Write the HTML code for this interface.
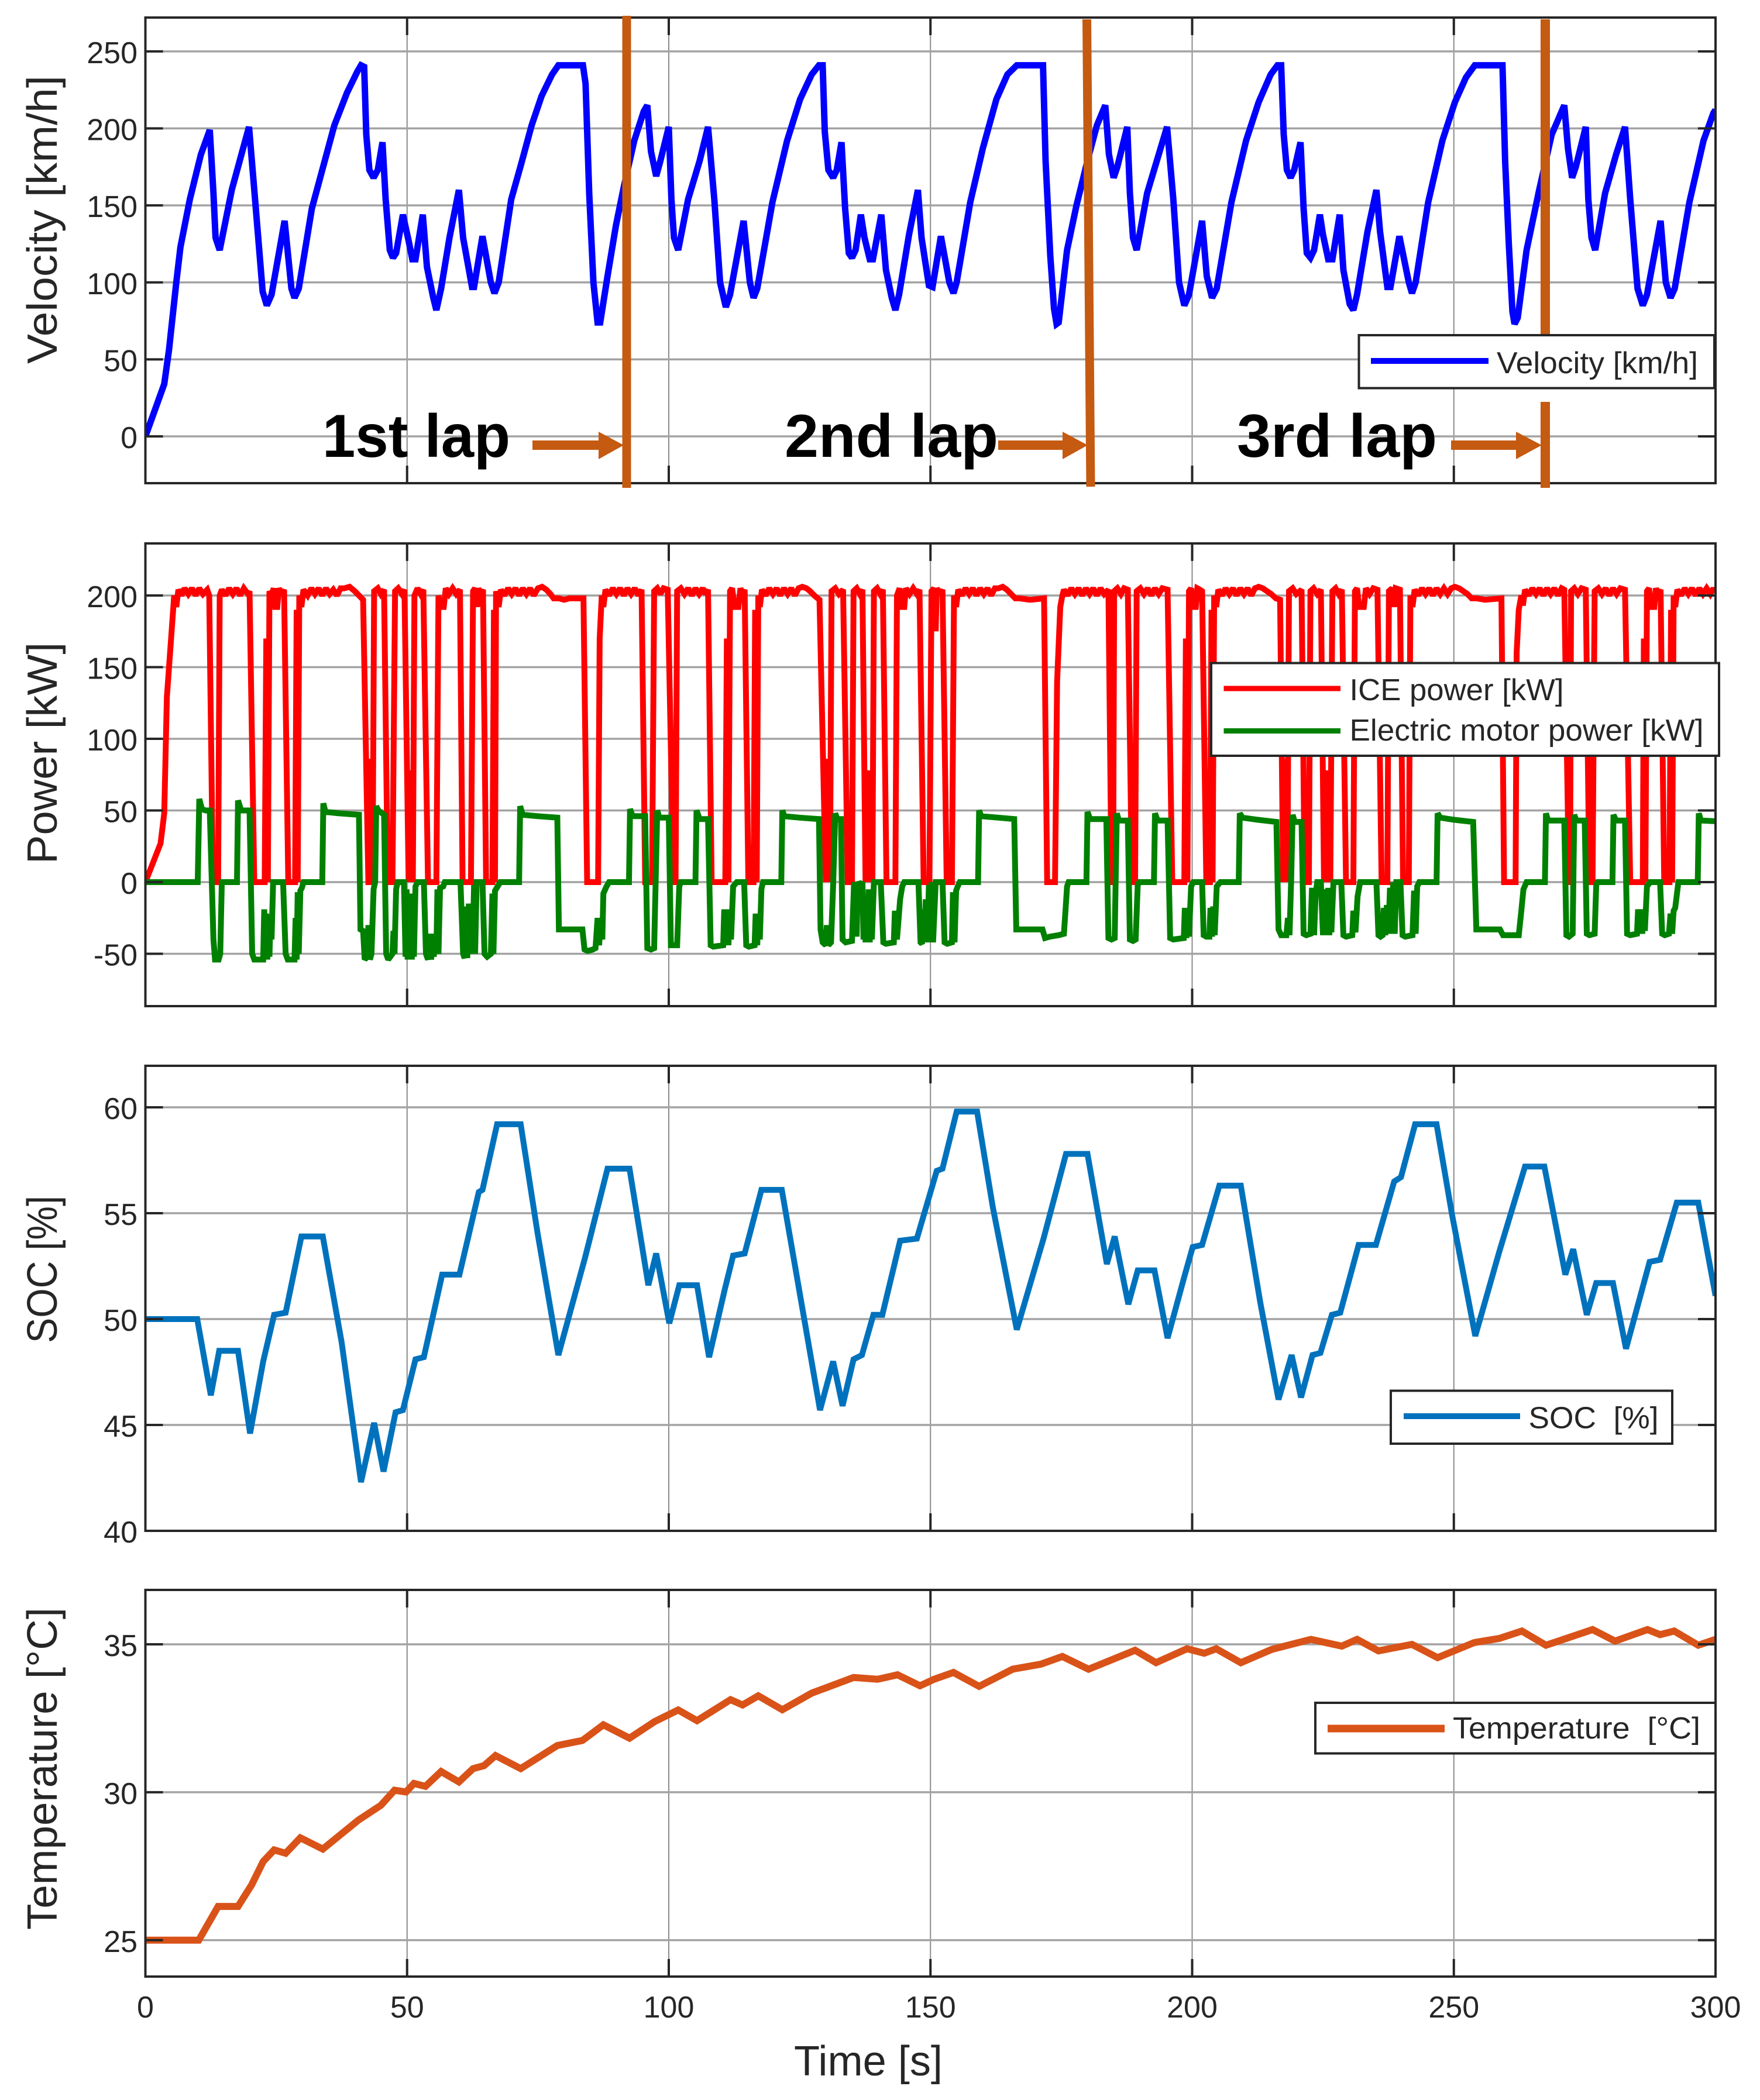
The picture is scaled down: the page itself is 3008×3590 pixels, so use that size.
<!DOCTYPE html>
<html lang="en">
<head>
<meta charset="utf-8">
<title>Velocity, power, SOC and temperature over time</title>
<style>
html,body{margin:0;padding:0;background:#fff;}
svg{display:block;font-family:"Liberation Sans",sans-serif;}
.tick-label{font-size:52px;fill:#262626;}
.axis-title{font-size:72px;fill:#262626;}
.legend-text{font-size:52px;fill:#262626;}
.lap-label{font-size:104px;font-weight:bold;fill:#000;}
</style>
</head>
<body>
<svg id="chart" xmlns="http://www.w3.org/2000/svg" width="3008" height="3590" viewBox="0 0 3008 3590">
  <rect x="0" y="0" width="3008" height="3590" fill="#fff"/>
  <g id="plots"></g>

  <text class="axis-title" transform="translate(97,622) rotate(-90)" textLength="493" lengthAdjust="spacingAndGlyphs">Velocity [km/h]</text>
  <text class="axis-title" transform="translate(97,1477) rotate(-90)" textLength="379" lengthAdjust="spacingAndGlyphs">Power [kW]</text>
  <text class="axis-title" transform="translate(97,2296) rotate(-90)" textLength="252" lengthAdjust="spacingAndGlyphs">SOC [%]</text>
  <text class="axis-title" transform="translate(97,3299) rotate(-90)" textLength="551" lengthAdjust="spacingAndGlyphs">Temperature [°C]</text>
  <text class="axis-title" x="1357" y="3548" textLength="254" lengthAdjust="spacingAndGlyphs">Time [s]</text>

  <g>
    <line x1="1071" y1="27" x2="1071" y2="834" stroke="#C55A11" stroke-width="15"/>
    <line x1="1857.5" y1="33" x2="1864" y2="832" stroke="#C55A11" stroke-width="15"/>
    <line x1="2641" y1="33" x2="2641" y2="577" stroke="#C55A11" stroke-width="16"/>
    <line x1="2641" y1="687" x2="2641" y2="834" stroke="#C55A11" stroke-width="16"/>
    <text class="lap-label" x="551" y="781" textLength="321" lengthAdjust="spacingAndGlyphs">1st lap</text>
    <text class="lap-label" x="1341" y="781" textLength="365" lengthAdjust="spacingAndGlyphs">2nd lap</text>
    <text class="lap-label" x="2114" y="781" textLength="342" lengthAdjust="spacingAndGlyphs">3rd lap</text>
    <polygon fill="#C55A11" points="910,753 1023,753 1023,738 1066,761 1023,785 1023,769 910,769"/>
    <polygon fill="#C55A11" points="1706,753 1816,753 1816,738 1859,761 1816,785 1816,769 1706,769"/>
    <polygon fill="#C55A11" points="2480,753 2591,753 2591,738 2635,761 2591,785 2591,769 2480,769"/>
  </g>

  <g>
    <rect x="2322.5" y="573" width="607.5" height="90.5" fill="#fff" stroke="#262626" stroke-width="4"/>
    <line x1="2343" y1="617" x2="2544" y2="617" stroke="#0000ff" stroke-width="10"/>
    <text class="legend-text" x="2558" y="638" textLength="344" lengthAdjust="spacingAndGlyphs">Velocity [km/h]</text>
  </g>
  <g>
    <rect x="2070" y="1133.5" width="868" height="158.5" fill="#fff" stroke="#262626" stroke-width="4"/>
    <line x1="2091.5" y1="1177" x2="2291" y2="1177" stroke="#ff0000" stroke-width="9"/>
    <text class="legend-text" x="2306.5" y="1197" textLength="366" lengthAdjust="spacingAndGlyphs">ICE power [kW]</text>
    <line x1="2091.5" y1="1249.5" x2="2291" y2="1249.5" stroke="#008000" stroke-width="9"/>
    <text class="legend-text" x="2306.5" y="1266" textLength="605" lengthAdjust="spacingAndGlyphs">Electric motor power [kW]</text>
  </g>
  <g>
    <rect x="2377" y="2377.5" width="481" height="90.5" fill="#fff" stroke="#262626" stroke-width="4"/>
    <line x1="2399" y1="2421" x2="2598" y2="2421" stroke="#0072BD" stroke-width="10"/>
    <text class="legend-text" x="2612.5" y="2441.5" textLength="222" lengthAdjust="spacingAndGlyphs" xml:space="preserve">SOC  [%]</text>
  </g>
  <g>
    <rect x="2248" y="2911" width="684" height="86.5" fill="#fff" stroke="#262626" stroke-width="4"/>
    <line x1="2269" y1="2955" x2="2469" y2="2955" stroke="#D95319" stroke-width="13"/>
    <text class="legend-text" x="2483" y="2972" textLength="423" lengthAdjust="spacingAndGlyphs" xml:space="preserve">Temperature  [°C]</text>
  </g>
</svg>

<script>
const xTicks = [0, 50, 100, 150, 200, 250, 300];
const velocityTicks = [0, 50, 100, 150, 200, 250];
const powerTicks = [-50, 0, 50, 100, 150, 200];
const socTicks = [40, 45, 50, 55, 60];
const temperatureTicks = [25, 30, 35];

const velocityTime = [
0,3.6,4.5,5.9,6.7,8.5,10.6,12.3,13,13.4,
14.2,16.5,18.5,19.8,20.8,22.4,23.2,24.1,26.6,27.9,
28.5,29.3,31.8,33.8,36.1,38.5,40.5,41.2,41.8,42.2,
42.8,43.6,44.4,45.3,45.9,46.7,47.3,47.9,49.2,50.3,
51,51.6,53,53.8,55,55.6,56.5,58.1,59.9,60.7,
62.4,62.8,64.4,66,66.7,67.5,69.9,71.8,73.8,75.7,
77.7,78.9,83.6,84.1,84.8,85.6,86.4,86.9,88.3,89.9,
91.4,93.4,95.2,95.9,96.6,97.6,98.4,100,100.5,101,
101.8,103.7,105.9,107.5,108.7,109.8,110.9,111.7,114.3,115.5,
116.2,116.9,119.8,122.6,125.1,127.3,128.7,129.4,129.8,130.5,
131.4,132.1,133,133.7,134.4,135,135.7,136.7,137.4,138.4,
139,140.6,141.5,142.6,143.3,144,145.9,147.6,148.3,149.7,
150.4,152,153.6,154.4,155,157.6,160,162.6,164.7,166.5,
171.5,172,172.9,173.6,174.1,174.5,176.1,177.9,180,181.8,
183.4,184.1,185,185.7,187.6,188.1,188.7,189.4,191.4,193.6,
195.2,196.4,197.5,198.5,199.4,201.9,202.8,203.8,204.7,207.5,
210.3,212.7,215,216.3,217,217.5,218.1,218.8,219.5,220.7,
221.3,221.9,222.6,223.3,224.4,225,226,226.8,228.2,228.9,
230.1,230.8,231.5,233.5,235.2,235.9,237.3,237.9,239.6,241.4,
242,242.7,245.1,247.8,250.2,252.3,254,259.3,259.8,260.5,
261.2,261.6,262.2,263.9,266.3,268.7,271.1,271.8,272.6,273.3,
275.2,275.7,276.3,277,278.9,281,282.7,283.7,285.1,286.1,
286.9,289.5,290.5,291.4,292.2,295,297.7,299.6,300];
const velocityValues = [
0,34,56,100,123,154,183,199,158,129,
121,160,185,201,160,94,85,92,140,96,
90,96,148,173,202,223,237,241,240,196,
173,168,173,191,154,121,116,119,144,127,
115,115,144,110,90,82,96,129,160,129,
97,97,130,100,93,100,154,177,202,221,
235,241,241,229,158,100,74,74,104,137,
162,192,211,215,185,169,179,201,154,129,
121,154,179,201,154,100,84,92,140,100,
90,96,152,192,219,235,241,241,198,173,
168,173,191,148,119,116,121,144,129,115,
115,144,108,90,82,92,131,160,129,98,
97,130,100,93,100,152,187,219,235,241,
241,179,117,83,73,74,121,150,179,202,
215,183,168,175,201,158,129,121,158,183,
201,154,100,85,92,140,104,90,96,152,
192,217,235,241,241,196,173,168,173,191,
148,119,116,121,144,131,115,115,144,108,
86,82,92,133,160,133,97,97,130,100,
93,100,152,192,217,233,241,241,179,125,
81,73,77,121,160,196,215,187,168,175,
201,154,129,121,158,183,201,154,96,85,
92,140,100,90,96,152,192,210,212];

const iceTime = [
0,2.9,3.6,4.1,5.5,5.9,6.3,6.9,7.5,8.2,
8.9,9.6,10.3,11,11.8,12.2,12.9,13.9,14.2,14.6,
15.3,16,16.7,17.4,18.1,18.8,19.6,19.9,20.8,22.8,
23.1,23.4,23.7,24.1,24.5,24.8,25.2,25.5,26,26.5,
27.3,28.6,28.9,29.1,29.4,29.8,30.2,31,31.7,32.4,
33.1,33.8,34.5,35.2,35.9,36.6,37.3,38,39,40,
40.8,41.6,42.6,43,43.2,43.4,43.7,44.4,45,45.6,
46.3,47.2,47.7,48.3,49,49.5,50.3,50.5,50.7,50.9,
51.1,51.4,52,52.6,53.1,54,55.6,56,56.4,57,
57.4,58,58.7,59.4,60.1,60.6,62.2,62.6,63,63.4,
63.6,64,64.5,65.1,66.3,66.6,66.8,67,67.5,67.9,
68.6,69.3,70,70.7,71.4,72.1,72.8,73.5,74.2,75,
75.8,76.6,77.4,78,79,80,81,83.7,84.4,86.5,
86.8,87.2,87.5,87.9,88.6,89.3,90,90.7,91.4,92.1,
92.8,93.5,94.2,94.8,95.5,96.8,97.2,97.8,98.4,99,
99.8,100.9,101.3,101.6,102.3,103,103.7,104.4,105.1,105.8,
106.5,107,107.5,108.2,110.8,111.1,111.4,111.7,112.1,112.6,
113.3,113.7,114.1,114.5,115.2,116.2,116.5,116.8,117.1,117.4,
117.8,118.5,119.2,119.9,120.6,121.3,122,122.7,123.4,124.1,
124.8,125.5,126.3,127,127.8,128.8,130,130.2,130.4,130.6,
130.8,131.1,131.8,132.5,133.3,134.2,135,135.3,135.9,136.5,
137,137.6,137.9,138.1,138.3,138.5,138.7,138.9,139.2,139.8,
140.4,140.9,141.6,143.3,143.6,144.1,144.4,145,145.3,146,
146.7,147.4,147.9,148.7,149.8,150.2,150.7,151,151.2,151.8,
152.3,153.1,154.1,154.5,154.9,155.3,156,156.7,157.4,158.1,
158.8,159.5,160.2,160.9,161.6,162.3,163,163.8,164.6,165.4,
166.2,167,169,171.7,172.3,173.8,174.2,174.8,175.2,175.5,
176.2,176.9,177.6,178.3,179,179.7,180.4,181.1,181.8,182.5,
183.2,184,184.6,184.9,185.1,185.7,186.4,187,187.7,188.5,
189.1,189.4,190.1,190.8,191.5,192.2,192.9,193.6,194.3,195.3,
196.2,198.5,198.8,199.1,199.4,199.8,200.1,200.7,201,201.5,
201.9,202.7,203.4,203.7,203.9,204.2,204.6,205,205.7,206.4,
207.1,207.8,208.5,209.2,209.9,210.6,211.3,212,212.7,213.5,
214.3,215.1,216,216.8,217.4,217.6,217.8,218,218.2,218.5,
219.2,219.9,220.9,221.5,222.3,222.6,223.2,223.9,224.6,225.2,
225.4,225.6,225.8,226,226.2,226.4,226.8,227.4,228,228.6,
229.4,230.8,231.1,231.5,231.9,232.8,233.2,233.9,234.6,235.4,
236.2,237.3,237.6,238.2,238.6,238.9,239.7,240.3,241.4,241.7,
242.1,242.5,243.2,243.9,244.6,245.3,246,246.7,247.4,248.1,
248.8,249.5,250.2,251,251.8,252.6,253.4,254.4,256,259.1,
259.6,261.8,262,262.4,262.9,263.2,263.6,264.3,265,265.7,
266.4,267.1,267.8,268.5,269.2,269.9,270.6,271.1,272,272.2,
272.4,273,273.7,274.4,275.2,275.9,276.5,276.9,277.6,278.3,
279,279.7,280.4,281.1,281.8,282.7,283.7,286.1,286.3,286.6,
286.9,287.3,287.6,288.3,288.6,289,289.5,290.2,291.2,291.5,
291.7,292,292.3,292.7,293.4,294.1,294.8,295.5,296.2,296.9,
297.6,298.3,299,299.6,300];
const icePower = [
0,27,48,129,200,192,204,200,205,201,
205,200,205,201,204,200,0,0,200,204,
200,205,201,205,200,205,201,203,0,0,
170,0,203,200,205,192,192,205,201,204,
0,0,190,0,200,192,204,200,205,201,
205,200,205,201,204,200,205,205,206,203,
200,197,0,0,86,0,203,205,201,204,
0,0,203,205,201,204,0,78,0,65,
0,200,205,201,204,0,0,200,192,192,
205,201,205,201,204,0,0,203,205,192,
205,201,204,0,0,190,0,203,192,204,
200,205,201,205,200,205,201,205,200,205,
206,204,201,198,198,197,198,198,0,0,
170,200,192,204,200,205,201,205,200,205,
201,205,200,204,0,0,203,205,201,205,
204,0,0,203,205,201,205,200,205,201,
205,201,204,0,0,170,0,203,205,192,
192,205,201,204,0,0,190,0,200,192,
204,200,205,201,205,200,205,201,205,200,
205,206,205,203,200,197,0,86,0,60,
0,203,205,201,204,0,0,203,205,201,
204,0,65,0,78,0,55,0,203,205,
201,204,0,0,200,205,192,192,205,201,
205,201,204,0,0,203,205,175,205,201,
204,0,0,200,192,204,200,205,201,205,
200,205,201,205,200,205,205,206,204,201,
198,198,197,198,0,0,140,192,200,204,
200,205,201,205,200,205,201,205,200,205,
201,204,0,0,203,205,201,205,204,0,
0,203,205,201,205,200,205,201,205,204,
0,0,170,0,203,205,192,192,205,204,
203,0,0,190,0,200,192,204,200,205,
201,205,200,205,201,205,200,205,206,205,
203,201,198,197,0,86,0,60,0,203,
205,201,204,0,0,203,205,201,204,0,
65,0,78,0,55,0,203,205,201,204,
0,0,203,205,192,192,205,201,205,204,
0,0,203,205,192,205,204,0,0,200,
192,204,200,205,201,205,200,205,201,205,
201,205,206,205,203,201,198,198,197,198,
0,0,160,190,200,193,204,200,205,201,
205,200,205,201,205,200,205,204,0,0,
203,205,201,205,204,0,0,203,205,201,
205,200,205,201,205,204,0,0,170,0,
203,205,192,192,205,201,204,0,0,190,
0,200,192,204,200,205,201,205,200,205,
201,205,201,205,202];

const motorTime = [
0,10,10.3,10.8,11.5,12.3,13,13.3,14,14.3,
14.6,17.5,17.7,18.3,19.9,20.4,20.8,22.5,22.7,22.9,
23.1,23.3,23.5,23.7,23.9,24.1,24.4,26.3,26.8,27.2,
28.5,28.7,28.9,29.1,29.3,29.6,29.9,30.2,33.8,34,
34.4,37,40.8,41.1,41.6,41.9,42.4,42.6,42.9,43.2,
43.6,43.9,44.1,44.5,45.6,46,46.4,47.2,47.4,47.6,
47.9,48.2,49.4,49.7,49.9,50.1,50.3,50.5,50.7,50.9,
51.1,51.3,51.6,52,53.2,53.6,54,54.4,54.6,54.9,
55.1,55.4,55.6,55.8,56,56.3,56.9,57.2,60.2,60.7,
61,61.2,61.5,61.8,62,62.3,62.5,62.8,63,63.3,
64.4,64.8,65.3,66,66.3,66.5,66.8,67.3,67.8,71.4,
71.6,72.1,75,78.7,79,79.5,83.5,83.9,84.5,85.5,
86,86.4,86.7,87,87.3,87.5,88.1,88.6,92.4,92.6,
93.1,94.7,95,95.5,95.9,96.6,97.2,97.8,98.2,100,
100.4,100.8,101.6,102,102.3,105.1,105.3,105.9,107.5,108,
108.5,110.4,110.6,110.9,111.1,111.4,111.6,111.9,112.3,113,
114.4,114.8,115.3,116.4,116.6,116.9,117.1,117.4,117.7,118,
121.5,121.7,122.1,125,128.7,129,129.4,130,130.2,130.5,
131,131.4,131.8,132.2,132.9,133.2,133.8,135,135.4,135.9,
136.1,136.5,137,137.2,137.4,137.6,137.8,138,138.2,138.4,
138.6,138.8,139.2,140.5,141,141.5,143,143.2,143.6,144.2,
144.6,145,147.7,148.1,148.4,148.6,148.9,149.1,149.4,149.7,
150,150.2,150.5,151,152.3,152.7,153.2,154.1,154.3,154.6,
154.9,155.2,155.6,159.1,159.3,159.7,163,166,166.4,167,
171.4,171.9,172.8,174.5,175.5,175.8,176.1,176.4,179.8,180,
180.5,183.6,184,184.6,185.2,185.6,186,187.7,188.1,188.7,
189.2,189.6,189.9,192.7,192.9,193.4,195.3,195.8,196.4,198.4,
198.6,198.9,199.1,199.4,199.8,200.2,201.9,202.2,202.7,203.3,
203.5,203.8,204,204.3,204.7,205.4,208.9,209.1,209.6,212.5,
216.1,216.5,217,218,218.3,218.6,218.9,219.2,219.6,220.9,
221.3,221.8,222.6,222.9,223.3,223.6,223.9,224.6,225,225.2,
225.4,225.6,225.8,226,226.2,226.4,226.6,227,228.5,228.9,
229.4,230.6,230.8,231.2,231.6,232.1,235.2,235.6,236,236.4,
236.6,236.9,237.2,237.5,237.8,238.1,238.4,238.7,239,239.8,
240.2,240.7,242.1,242.4,242.7,243,243.4,246.7,246.9,247.4,
250,253.7,254.3,258.8,259.4,262.4,262.9,263.3,263.9,267.4,
267.6,268,271.1,271.5,272,272.7,273,273.4,275,275.4,
275.9,276.9,277.2,277.5,280.3,280.5,281,282.7,283.1,283.7,
285,285.2,285.5,285.7,286,286.2,286.5,286.9,287.5,289.4,
289.8,290.3,291.1,291.4,291.7,292,292.3,292.9,296.6,296.8,
297.2,300];
const motorPower = [
0,0,58,51,50,50,-40,-54,-54,-50,
0,0,57,50,50,-50,-54,-54,-19,-54,
-22,-54,-23,-52,-24,-40,0,0,-50,-54,
-54,-25,-54,-7,-50,-6,-4,0,0,55,
49,48,47,-33,-34,-54,-52,-30,-54,-50,
-5,0,53,50,47,-50,-54,-50,-34,-50,
-5,0,0,-52,-5,-54,-10,-54,-8,-54,
-12,-52,-3,0,0,-50,-54,-36,-54,-36,
-52,-36,-50,-5,-50,-4,-3,0,0,-50,
-53,-17,-53,-15,-50,-15,-50,-2,-50,0,
0,-50,-52,-50,-8,-50,-6,-3,0,0,
53,47,46,45,-33,-33,-33,-47,-48,-47,
-46,-25,-44,-26,-40,-8,-3,0,0,51,
46,46,46,46,-46,-47,-46,50,45,45,
-44,-44,-44,-3,0,0,50,44,44,-44,
-45,-44,-19,-44,-19,-44,-20,-40,-3,0,
0,-44,-45,-44,-22,-44,-22,-40,-5,0,
0,50,46,45,44,-33,-42,-44,-30,-44,
-42,-2,48,44,44,-40,-42,-41,0,-38,
0,-2,0,-40,-10,-42,-12,-42,-5,-42,
-10,-40,0,0,-42,-43,-42,-20,-40,-12,
-3,0,0,-42,-43,-19,-42,-12,-42,-2,
-42,0,-42,0,0,-42,-43,-42,-7,-42,
-6,-3,0,0,50,46,45,44,-33,-33,
-33,-39,-38,-37,-36,-20,-3,0,0,49,
44,44,-39,-40,-39,48,43,43,-40,-41,
-40,-2,0,0,48,43,43,-39,-40,-39,
-18,-39,-18,-38,-3,0,0,-37,-38,-38,
-18,-38,-17,-37,-3,0,0,48,45,43.5,
42,-33,-37,-37,-25,-37,0,47,42,42,
-36,-37,-36,-4,-37,-8,0,0,-37,-10,
-37,-5,-37,-4,-37,-8,-35,0,0,-37,
-38,-37,-20,-35,-10,0,0,-37,-38,-37,
-18,-37,-16,-36,-4,-36,0,-36,0,0,
-37,-38,-37,-6,-36,-3,0,0,48,45,
43.5,42,-33,-33,-37,-37,-20,-5,0,0,
48,43,43,-37,-38,-36,47,43,43,-36,
-37,-36,-2,0,0,47,43,43,-36,-37,
-36,-19,-36,-19,-36,-20,-34,-3,0,0,
-36,-37,-36,-22,-36,-20,-18,0,0,48,
43,42.5];

const socTime = [
0,9.9,12.5,14.1,17.7,20,22.5,24.6,26.8,29.8,
33.9,37.5,41.2,43.7,45.5,47.8,49.2,51.6,53.2,56.7,
60,63.7,64.4,67.2,71.7,74.9,78.9,84,88.3,92.5,
96.1,97.6,100.1,102,105.4,107.7,110.7,112.3,114.5,117.7,
121.6,128.9,131.4,133.2,135.3,136.9,139.1,140.8,144.2,147.4,
151.2,152.3,155,158.9,161.9,166.5,171.6,175.9,180,183.7,
185.2,187.8,189.6,192.8,195.3,198.5,200.1,201.9,205.2,209.3,
213,216.5,219,220.8,223,224.5,226.7,228.3,231.8,235.1,
238.6,239.9,242.6,246.7,249.6,254.1,258.7,263.6,267.3,271.3,
272.8,275.4,277.2,280.4,282.9,287.4,289.4,292.6,296.7,300];
const socValues = [
50,50,46.4,48.5,48.5,44.6,48,50.2,50.3,53.9,
53.9,48.9,42.3,45.1,42.8,45.6,45.7,48.1,48.2,52.1,
52.1,56,56.1,59.2,59.2,54.1,48.3,52.9,57.1,57.1,
51.6,53.1,49.8,51.6,51.6,48.2,51.4,53,53.1,56.1,
56.1,45.7,48,45.9,48.1,48.3,50.2,50.2,53.7,53.8,
57,57.1,59.8,59.8,55.3,49.5,53.8,57.8,57.8,52.6,
53.9,50.7,52.3,52.3,49.1,52,53.4,53.5,56.3,56.3,
50.8,46.2,48.3,46.3,48.3,48.4,50.2,50.3,53.5,53.5,
56.5,56.7,59.2,59.2,55,49.2,53.2,57.2,57.2,52.1,
53.3,50.2,51.7,51.7,48.6,52.7,52.8,55.5,55.5,51.1];

const temperatureTime = [
0,10.2,13.9,17.7,20.3,22.5,24.6,26.8,29.6,33.9,
40.7,45,47.6,49.8,51.3,53.5,56.5,59.9,62.6,64.7,
66.9,71.7,78.7,83.5,87.5,92.5,97.3,101.8,105.4,111.8,
114.1,117.1,121.7,127.3,135.3,139.9,143.7,148,150.7,154.4,
159.3,165.7,171.1,175.2,180.2,189.1,193.1,199,202.3,204.6,
209.3,215.2,222.7,228.6,231.5,235.6,242,246.9,253.9,258.7,
263,267.6,276.5,280.8,287,289.4,292.1,296.7,300];
const temperatureValues = [
25,25,26.14,26.14,26.87,27.66,28.05,27.94,28.46,28.08,
29.06,29.56,30.07,30.01,30.3,30.2,30.7,30.35,30.8,30.9,
31.24,30.8,31.58,31.75,32.28,31.83,32.39,32.78,32.42,33.13,
32.95,33.26,32.79,33.35,33.88,33.82,33.97,33.6,33.82,34.05,
33.58,34.16,34.33,34.59,34.16,34.8,34.38,34.85,34.7,34.85,
34.38,34.83,35.17,34.94,35.17,34.78,35,34.55,35.06,35.2,
35.45,34.97,35.5,35.11,35.5,35.33,35.45,34.97,35.17];

const SVG_NS = 'http://www.w3.org/2000/svg';
const plots = document.getElementById('plots');
const plotLeft = 248.5;
const plotRight = 2932;
const xMax = 300;
const frameColor = '#262626';
const tickLength = 30;

function xScale(t) {
  return plotLeft + (t / xMax) * (plotRight - plotLeft);
}
function makeYScale(top, bottom, vMin, vMax) {
  return function (v) {
    return bottom - ((v - vMin) / (vMax - vMin)) * (bottom - top);
  };
}
function pathFrom(times, values, yScale) {
  const n = Math.min(times.length, values.length);
  let d = '';
  for (let i = 0; i < n; i++) {
    d += (i ? 'L' : 'M') + xScale(times[i]).toFixed(1) + ' ' + yScale(values[i]).toFixed(1);
  }
  return d;
}
function mk(tag, attrs, parent) {
  const node = document.createElementNS(SVG_NS, tag);
  for (const key in attrs) node.setAttribute(key, attrs[key]);
  parent.appendChild(node);
  return node;
}

function drawPanel(id, top, bottom, vMin, vMax, yTicks, showXLabels) {
  const yScale = makeYScale(top, bottom, vMin, vMax);
  const panel = mk('g', {}, plots);
  
  

  const defs = mk('defs', {}, panel);
  
  
  const clip = mk('clipPath', { id: id + '-clip' }, defs);
  mk('rect', { x: plotLeft, y: top, width: plotRight - plotLeft, height: bottom - top }, clip);

  xTicks.forEach(function (t) {
    if (t === 0 || t === xMax) return;
    const grid = mk('line', { x1: xScale(t), x2: xScale(t), y1: top, y2: bottom, stroke: '#8c8c8c', 'stroke-width': 2 }, panel);
    
    
  });
  yTicks.forEach(function (v) {
    const grid = mk('line', { x1: plotLeft, x2: plotRight, y1: yScale(v), y2: yScale(v), stroke: '#a3a3a3', 'stroke-width': 3.5 }, panel);
    
    
  });

  const series = mk('g', { 'clip-path': 'url(#' + id + '-clip)' }, panel);
  
  

  const frame = mk('rect', { x: plotLeft, y: top, width: plotRight - plotLeft, height: bottom - top, fill: 'none', stroke: frameColor, 'stroke-width': 4 }, panel);
  
  

  xTicks.forEach(function (t) {
    if (t === 0 || t === xMax) return;
    const upper = mk('line', { x1: xScale(t), x2: xScale(t), y1: top, y2: top + tickLength, stroke: frameColor, 'stroke-width': 4 }, panel);
    
    
    const lower = mk('line', { x1: xScale(t), x2: xScale(t), y1: bottom, y2: bottom - tickLength, stroke: frameColor, 'stroke-width': 4 }, panel);
    
    
  });
  yTicks.forEach(function (v) {
    const left = mk('line', { x1: plotLeft, x2: plotLeft + tickLength, y1: yScale(v), y2: yScale(v), stroke: frameColor, 'stroke-width': 4 }, panel);
    
    
    const right = mk('line', { x1: plotRight, x2: plotRight - tickLength, y1: yScale(v), y2: yScale(v), stroke: frameColor, 'stroke-width': 4 }, panel);
    
    
    const label = mk('text', { class: 'tick-label', x: 235, y: yScale(v) + 20, 'text-anchor': 'end' }, panel);
    
    
    label.textContent = String(v);
  });
  if (showXLabels) {
    xTicks.forEach(function (t) {
      const label = mk('text', { class: 'tick-label', x: xScale(t), y: bottom + 70, 'text-anchor': 'middle' }, panel);
      
      
      label.textContent = String(t);
    });
  }
  return { series: series, yScale: yScale };
}

function lineAttrs(d, color, width) {
  return { d: d, fill: 'none', stroke: color, 'stroke-width': width, 'stroke-linejoin': 'miter', 'stroke-miterlimit': 2 };
}

const velocityPanel = drawPanel('velocity', 30, 826, -30.4, 272, velocityTicks, false);
const velocityLine = mk('path', lineAttrs(pathFrom(velocityTime, velocityValues, velocityPanel.yScale), '#0000ff', 11), velocityPanel.series);



const powerPanel = drawPanel('power', 929, 1720, -86.5, 236.3, powerTicks, false);
const iceLine = mk('path', lineAttrs(pathFrom(iceTime, icePower, powerPanel.yScale), '#ff0000', 10), powerPanel.series);


const motorLine = mk('path', lineAttrs(pathFrom(motorTime, motorPower, powerPanel.yScale), '#008000', 10), powerPanel.series);



const socPanel = drawPanel('soc', 1822, 2617, 40, 61.96, socTicks, false);
const socLine = mk('path', lineAttrs(pathFrom(socTime, socValues, socPanel.yScale), '#0072BD', 10), socPanel.series);



const temperaturePanel = drawPanel('temperature', 2718, 3379, 23.77, 36.84, temperatureTicks, true);
const temperatureLine = mk('path', lineAttrs(pathFrom(temperatureTime, temperatureValues, temperaturePanel.yScale), '#D95319', 12), temperaturePanel.series);


</script>
</body>
</html>
